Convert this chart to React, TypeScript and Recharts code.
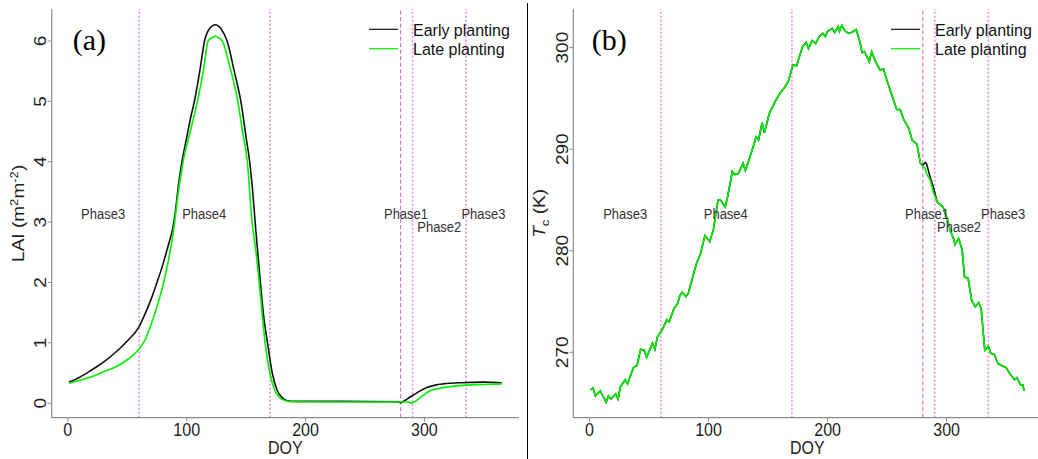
import React from 'react';
import { LineChart, Line, XAxis, YAxis, ReferenceLine, ReferenceDot, Legend } from 'recharts';

// ---------- data ----------
const doyLaiEarly = [1,10,20,30,40,50,60,65,70,75,80,85,88,90,93,96,100,103,107,111,115,119,124,129,134,140,146,150,153,156,158,162,165,168,172,176,180,185,190,230,278,280,283,287,291,296,302,309,316,330,350,365];
const laiEarly = [0.35,0.43,0.55,0.68,0.84,1.03,1.27,1.48,1.72,2.0,2.3,2.65,2.87,3.1,3.6,4.0,4.4,4.7,5.05,5.5,6.0,6.2,6.27,6.2,6.0,5.5,4.95,4.4,4.0,3.4,2.9,2.0,1.4,1.0,0.5,0.22,0.1,0.04,0.03,0.03,0.025,0.005,0.04,0.09,0.14,0.2,0.26,0.3,0.32,0.34,0.35,0.34];

const doyLaiLate = [1,10,20,30,40,50,60,65,70,75,80,85,89,93,97,103,109,114,118,121,124,127,130,136,143,147,151,155,158,161,166,170,174,178,183,188,230,286,289,293,297,301,305,311,320,335,350,365];
const laiLate = [0.33,0.38,0.44,0.52,0.6,0.72,0.9,1.05,1.3,1.6,1.95,2.4,2.87,3.5,4.0,4.5,5.0,5.5,6.0,6.05,6.08,6.05,6.0,5.6,5.0,4.5,4.0,3.0,2.55,2.0,1.0,0.5,0.22,0.1,0.04,0.025,0.02,0.02,0.005,0.04,0.1,0.16,0.21,0.24,0.27,0.3,0.31,0.32];

const doyTc = [
  1,3,5,9,14,16,18,22,24,26,
  30,32,37,40,43,46,48,53,55,57,
  61,65,67,71,74,76,78,81,83,86,
  90,93,97,101,104,108,110,114,116,120,
  122,125,129,131,135,140,142,145,147,151,
  156,160,164,167,171,174,176,179,182,184,
  187,190,193,196,198,200,204,206,209,210,
  212,215,218,222,224,227,229,231,235,237,
  240,244,247,250,254,258,261,264,268,271,
  275,278,280,282,283,286,289,292,297,301,
  303,306,307,310,313,315,318,321,324,327,
  329,332,335,337,340,343,346,350,353,357,
  359,362,364,365];
const tcLate = [
  266.3,266.5,265.7,266.2,265.1,265.7,265.4,265.9,265.4,266.6,
  267.3,266.9,268.5,268.7,270.3,270.2,269.5,270.9,270.3,271.5,
  272.2,273.2,273.0,274.3,274.8,275.6,275.9,275.5,275.8,277.1,
  278.8,279.6,281.5,280.9,282.0,285.0,285.0,284.3,285.3,287.8,
  287.5,287.6,288.6,287.9,289.3,291.2,290.9,292.6,291.6,293.5,
  294.7,295.5,296.1,296.7,298.3,298.2,299.0,300.1,300.5,299.9,
  300.7,300.4,301.1,301.4,301.1,301.6,301.9,301.5,302.1,301.6,
  302.2,301.6,301.4,301.6,301.8,300.6,299.5,299.6,298.6,299.6,
  298.7,297.8,297.9,296.7,295.3,293.9,293.9,292.9,292.1,290.9,
  290.5,288.6,288.3,288.1,287.6,287.0,285.7,284.8,284.3,282.9,
  282.0,281.1,280.6,281.2,280.1,277.4,277.3,275.1,274.5,274.9,
  274.3,270.2,270.6,269.9,269.8,268.9,268.7,268.5,267.9,267.3,
  267.5,266.8,266.8,266.2];
const tcEarly = [
  266.3,266.5,265.7,266.2,265.1,265.7,265.4,265.9,265.4,266.6,
  267.3,266.9,268.5,268.7,270.3,270.2,269.5,270.9,270.3,271.5,
  272.2,273.2,273.0,274.3,274.8,275.6,275.9,275.5,275.8,277.1,
  278.8,279.6,281.5,280.9,282.0,285.0,285.0,284.3,285.3,287.8,
  287.5,287.6,288.6,287.9,289.3,291.2,290.9,292.6,291.6,293.5,
  294.7,295.5,296.1,296.7,298.3,298.2,299.0,300.1,300.5,299.9,
  300.7,300.4,301.1,301.4,301.1,301.6,301.9,301.5,302.1,301.6,
  302.2,301.6,301.4,301.6,301.8,300.6,299.5,299.6,298.6,299.6,
  298.7,297.8,297.9,296.7,295.3,293.9,293.9,292.9,292.1,290.9,
  290.5,288.6,288.4,288.7,288.6,287.3,286.2,284.8,284.3,282.9,
  282.0,281.1,280.6,281.2,280.1,277.4,277.3,275.1,274.5,274.9,
  274.3,270.2,270.6,269.9,269.8,268.9,268.7,268.5,267.9,267.3,
  267.5,266.8,266.8,266.2];

const seriesNames = ['Early planting', 'Late planting'];
const phaseLines = [60, 170, 280, 290, 335];
const phaseNames = ['Phase3', 'Phase4', 'Phase1', 'Phase2', 'Phase3'];
const phaseDoyA = [29.7, 114.7, 284.5, 312.5, 349.6];
const phaseYA = [3.15, 3.15, 3.15, 2.92, 3.15];
const phaseDoyB = [30, 114.5, 283.5, 310.4, 347.4];
const phaseYB = [283.7, 283.7, 283.7, 282.34, 283.7];
const xTicks = [0, 100, 200, 300];
const laiTicks = [0, 1, 2, 3, 4, 5, 6];
const tcTicks = [270, 280, 290, 300];

const laiEarlyData = doyLaiEarly.map((d, i) => ({ doy: d, v: laiEarly[i] }));
const laiLateData = doyLaiLate.map((d, i) => ({ doy: d, v: laiLate[i] }));
const tcEarlyData = doyTc.map((d, i) => ({ doy: d, v: tcEarly[i] }));
const tcLateData = doyTc.map((d, i) => ({ doy: d, v: tcLate[i] }));

// ---------- style ----------
const S = 1.19;
const SANS = '"Liberation Sans", Arial, Helvetica, sans-serif';
const SERIF = '"Liberation Serif", "Times New Roman", serif';
const BOX = '#8c8c8c';
const TXT = '#222';
const BLACK = '#111';
const GREEN = '#00f000';
const XDOM: [number, number] = [-13.56, 379.56];

function SText(props: any) {
  const { x, y, rot = false, size = 16, anchor = 'middle', family = SANS, fill = TXT, sy = S, children } = props;
  const transform = rot
    ? `translate(${x},${y}) rotate(-90) scale(${sy},1)`
    : `translate(${x},${y}) scale(1,${sy})`;
  return (
    <text transform={transform} x={0} y={0} fontSize={size} fontFamily={family} textAnchor={anchor} fill={fill}>
      {children}
    </text>
  );
}

const XTick = (p: any) => <SText x={p.x} y={p.y + 13.8}>{p.payload.value}</SText>;
const YTick = (p: any) => <SText rot x={p.x - 1.4} y={p.y}>{p.payload.value}</SText>;

const vbOf = (p: any) => (p && p.viewBox) ? p.viewBox : p;

const xTitle = (p: any) => {
  const vb = vbOf(p);
  return <SText x={vb.x + vb.width / 2} y={vb.y + 36.3}>DOY</SText>;
};

const laiTitle = (p: any) => {
  const vb = vbOf(p);
  return (
    <SText rot x={vb.x + vb.width - 28.2} y={vb.y + vb.height / 2}>
      LAI (m<tspan dy={-6} fontSize={11}>2</tspan><tspan dy={6}>m</tspan><tspan dy={-6} fontSize={11}>-2</tspan><tspan dy={6}>)</tspan>
    </SText>
  );
};

const tcTitle = (p: any) => {
  const vb = vbOf(p);
  return (
    <SText rot x={vb.x + vb.width - 28.2} y={vb.y + vb.height / 2}>
      <tspan fontStyle="italic">T</tspan><tspan dy={4} fontSize={11}>c</tspan><tspan dy={-4}> (K)</tspan>
    </SText>
  );
};

const phaseLabel = (name: string) => (p: any) => {
  const vb = vbOf(p);
  return <SText x={vb.x} y={vb.y + 5.5} size={13} fill="#333">{name}</SText>;
};

const panelLabel = (name: string) => (p: any) => {
  const vb = vbOf(p);
  return <SText x={vb.x} y={vb.y} size={30} anchor="start" family={SERIF} fill="#000" sy={1.0}>{name}</SText>;
};

function legendContent(x0: number) {
  return (props: any) => {
    const payload = (props && props.payload && props.payload.length) ? props.payload : [];
    const items = seriesNames.map((n, i) => {
      const found = payload.find((q: any) => q.value === n);
      return { name: n, color: found ? found.color : (i === 0 ? BLACK : GREEN) };
    });
    return (
      <svg width={200} height={70} style={{ position: 'absolute', left: x0, top: 0, overflow: 'visible' }}>
        {items.map((it, i) => (
          <g key={it.name}>
            <line x1={0} x2={29} y1={29.3 + i * 19.4} y2={29.3 + i * 19.4} stroke={it.color} strokeWidth={1.2} />
            <SText x={44} y={35.6 + i * 19.4} anchor="start" fill="#111" sy={1.04}>{it.name}</SText>
          </g>
        ))}
      </svg>
    );
  };
}

function vLines() {
  return phaseLines.map((v) => (
    <ReferenceLine
      key={'v' + v}
      x={v}
      stroke={v === 280 ? '#d455d4' : '#e99ae9'}
      strokeWidth={v === 280 ? 1 : 1.8}
      strokeDasharray={v === 280 ? '4 2.5' : '2 2'}
    />
  ));
}

function LaiChart() {
  return (
    <LineChart width={530} height={459} margin={{ top: 9, right: 11, bottom: 0, left: 0 }}>
      <XAxis dataKey="doy" type="number" domain={XDOM} allowDataOverflow ticks={xTicks} height={41.3}
        tickSize={4} tickMargin={0} tick={XTick} stroke={BOX} axisLine={{ stroke: BOX, strokeWidth: 1.2 }}
        tickLine={{ stroke: BOX }} label={xTitle} />
      <XAxis xAxisId="top" orientation="top" dataKey="doy" type="number" domain={XDOM} allowDataOverflow height={0}
        tick={false} tickLine={false} axisLine={{ stroke: BOX, strokeWidth: 1.2 }} />
      <YAxis type="number" domain={[-0.24, 6.53]} allowDataOverflow ticks={laiTicks} width={51.7}
        tickSize={4} tickMargin={0} tick={YTick} axisLine={{ stroke: BOX, strokeWidth: 1.2 }}
        tickLine={{ stroke: BOX }} label={laiTitle} />
      <YAxis yAxisId="right" orientation="right" width={0} tick={false} tickLine={false}
        axisLine={{ stroke: BOX, strokeWidth: 1.2 }} />
      {vLines()}
      <Line data={laiEarlyData} dataKey="v" name={seriesNames[0]} type="monotone" stroke={BLACK} strokeWidth={1.6}
        dot={false} isAnimationActive={false} />
      <Line data={laiLateData} dataKey="v" name={seriesNames[1]} type="monotone" stroke={GREEN} strokeWidth={1.6}
        dot={false} isAnimationActive={false} />
      {phaseNames.map((n, i) => (
        <ReferenceDot key={'p' + i} x={phaseDoyA[i]} y={phaseYA[i]} r={0} fill="none" stroke="none" label={phaseLabel(n)} />
      ))}
      <ReferenceDot x={4.2} y={5.85} r={0} fill="none" stroke="none" label={panelLabel('(a)')} />
      <Legend layout="horizontal" verticalAlign="middle" align="center"
        wrapperStyle={{ position: 'absolute', left: 0, top: 0, width: 530, height: 70 }}
        content={legendContent(369)} />
    </LineChart>
  );
}

function TcChart() {
  return (
    <LineChart width={520} height={459} margin={{ top: 9, right: 6.6, bottom: 0, left: 0 }}>
      <XAxis dataKey="doy" type="number" domain={XDOM} allowDataOverflow ticks={xTicks} height={41.3}
        tickSize={4} tickMargin={0} tick={XTick} axisLine={{ stroke: BOX, strokeWidth: 1.2 }}
        tickLine={{ stroke: BOX }} label={xTitle} />
      <XAxis xAxisId="top" orientation="top" dataKey="doy" type="number" domain={XDOM} allowDataOverflow height={0}
        tick={false} tickLine={false} axisLine={{ stroke: BOX, strokeWidth: 1.2 }} />
      <YAxis type="number" domain={[263.56, 303.8]} allowDataOverflow ticks={tcTicks} width={45.3}
        tickSize={4} tickMargin={0} tick={YTick} axisLine={{ stroke: BOX, strokeWidth: 1.2 }}
        tickLine={{ stroke: BOX }} label={tcTitle} />
      {vLines()}
      <Line data={tcEarlyData} dataKey="v" name={seriesNames[0]} type="linear" stroke={BLACK} strokeWidth={1.6}
        dot={false} isAnimationActive={false} />
      <Line data={tcLateData} dataKey="v" name={seriesNames[1]} type="linear" stroke={GREEN} strokeWidth={1.6}
        dot={false} isAnimationActive={false} />
      {phaseNames.map((n, i) => (
        <ReferenceDot key={'p' + i} x={phaseDoyB[i]} y={phaseYB[i]} r={0} fill="none" stroke="none" label={phaseLabel(n)} />
      ))}
      <ReferenceDot x={2.0} y={299.77} r={0} fill="none" stroke="none" label={panelLabel('(b)')} />
      <Legend layout="horizontal" verticalAlign="middle" align="center"
        wrapperStyle={{ position: 'absolute', left: 0, top: 0, width: 520, height: 70 }}
        content={legendContent(363)} />
    </LineChart>
  );
}

export default function App() {
  return (
    <div style={{ position: 'absolute', left: 0, top: 0, width: 1038, height: 459, overflow: 'hidden', background: '#fff' }}>
      <div style={{ position: 'absolute', left: 0, top: 0 }}>
        <LaiChart />
      </div>
      <div style={{ position: 'absolute', left: 526.7, top: 3, width: 1.3, height: 456, background: '#000' }} />
      <div style={{ position: 'absolute', left: 528, top: 0 }}>
        <TcChart />
      </div>
    </div>
  );
}
